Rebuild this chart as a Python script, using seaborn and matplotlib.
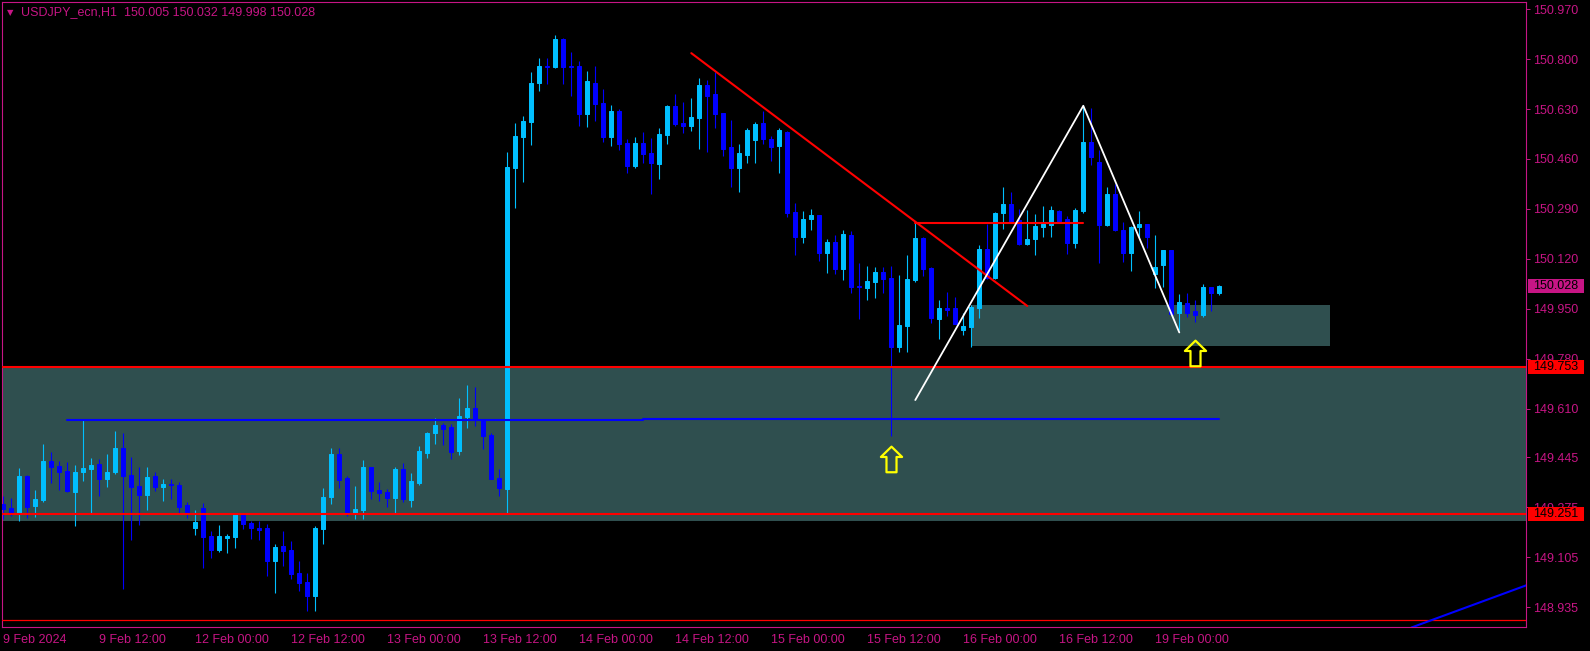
import numpy as np
import pandas as pd
import matplotlib
matplotlib.use("Agg")
import matplotlib.pyplot as plt
import matplotlib.transforms as mtransforms
from matplotlib.path import Path
from matplotlib.patches import Rectangle
import seaborn as sns

# USDJPY_ecn H1 candles, bar 0 = 9 Feb 2024 00:00 (weekend bars skipped)
opens = [149.286, 149.273, 149.257, 149.381, 149.279, 149.300, 149.432, 149.415, 149.398, 149.327,
         149.395, 149.405, 149.422, 149.371, 149.395, 149.477, 149.385, 149.347, 149.317, 149.381,
         149.344, 149.354, 149.351, 149.283, 149.204, 149.273, 149.177, 149.130, 149.172, 149.174,
         149.252, 149.222, 149.204, 149.204, 149.092, 149.143, 149.130, 149.051, 149.021, 148.973,
         149.201, 149.310, 149.456, 149.375, 149.256, 149.266, 149.412, 149.334, 149.327, 149.306,
         149.405, 149.300, 149.358, 149.460, 149.528, 149.555, 149.548, 149.466, 149.582, 149.613,
         149.572, 149.521, 149.375, 149.338, 150.430, 150.535, 150.586, 150.719, 150.777, 150.773,
         150.868, 150.777, 150.777, 150.613, 150.719, 150.651, 150.535, 150.623, 150.515, 150.436,
         150.515, 150.481, 150.443, 150.542, 150.640, 150.583, 150.572, 150.600, 150.712, 150.681,
         150.617, 150.501, 150.430, 150.474, 150.525, 150.583, 150.528, 150.505, 150.552, 150.280,
         150.195, 150.256, 150.270, 150.141, 150.178, 150.086, 150.202, 150.028, 150.021, 150.042,
         150.076, 150.055, 149.821, 149.892, 150.049, 150.192, 150.089, 149.916, 149.953, 149.953,
         149.879, 149.889, 149.953, 150.154, 150.055, 150.277, 150.307, 150.253, 150.171, 150.188,
         150.229, 150.236, 150.283, 150.256, 150.175, 150.283, 150.518, 150.450, 150.236, 150.341,
         150.219, 150.141, 150.229, 150.239, 150.069, 150.100, 150.151, 149.937, 149.970, 149.943,
         149.930, 150.025, 150.005]
highs = [149.313, 149.307, 149.409, 149.385, 149.334, 149.490, 149.463, 149.432, 149.429, 149.419,
         149.572, 149.443, 149.439, 149.456, 149.535, 149.528, 149.446, 149.412, 149.412, 149.395,
         149.371, 149.371, 149.361, 149.293, 149.266, 149.290, 149.194, 149.215, 149.184, 149.254,
         149.254, 149.228, 149.228, 149.218, 149.150, 149.194, 149.160, 149.092, 149.051, 149.211,
         149.340, 149.477, 149.477, 149.381, 149.347, 149.436, 149.413, 149.361, 149.337, 149.412,
         149.426, 149.392, 149.483, 149.531, 149.579, 149.562, 149.558, 149.647, 149.691, 149.684,
         149.574, 149.528, 149.405, 150.484, 150.583, 150.606, 150.756, 150.804, 150.804, 150.882,
         150.872, 150.824, 150.794, 150.760, 150.777, 150.698, 150.644, 150.630, 150.528, 150.535,
         150.552, 150.532, 150.566, 150.644, 150.681, 150.654, 150.668, 150.736, 150.729, 150.756,
         150.618, 150.593, 150.511, 150.566, 150.586, 150.624, 150.539, 150.566, 150.554, 150.311,
         150.283, 150.290, 150.271, 150.188, 150.202, 150.219, 150.215, 150.107, 150.096, 150.093,
         150.093, 150.096, 150.066, 150.134, 150.243, 150.195, 150.091, 149.981, 150.008, 149.991,
         149.936, 149.964, 150.168, 150.239, 150.280, 150.365, 150.348, 150.290, 150.287, 150.273,
         150.300, 150.300, 150.287, 150.266, 150.294, 150.644, 150.634, 150.491, 150.365, 150.375,
         150.246, 150.232, 150.283, 150.240, 150.202, 150.152, 150.152, 150.001, 150.004, 149.980,
         150.035, 150.025, 150.032]
lows = [149.236, 149.245, 149.230, 149.240, 149.243, 149.293, 149.359, 149.334, 149.328, 149.212,
        149.366, 149.257, 149.315, 149.344, 149.388, 148.997, 149.164, 149.215, 149.266, 149.330,
        149.296, 149.303, 149.257, 149.240, 149.181, 149.068, 149.102, 149.123, 149.120, 149.137,
        149.201, 149.167, 149.164, 149.041, 148.983, 149.075, 149.031, 148.990, 148.922, 148.922,
        149.150, 149.286, 149.340, 149.245, 149.235, 149.235, 149.303, 149.296, 149.276, 149.256,
        149.293, 149.276, 149.351, 149.443, 149.490, 149.487, 149.439, 149.453, 149.545, 149.551,
        149.473, 149.371, 149.313, 149.257, 150.293, 150.382, 150.508, 150.692, 150.715, 150.770,
        150.715, 150.674, 150.572, 150.569, 150.589, 150.518, 150.504, 150.491, 150.413, 150.430,
        150.447, 150.341, 150.392, 150.511, 150.572, 150.549, 150.555, 150.494, 150.484, 150.566,
        150.470, 150.365, 150.348, 150.447, 150.447, 150.511, 150.454, 150.413, 150.263, 150.134,
        150.175, 150.219, 150.113, 150.072, 150.069, 150.049, 150.004, 149.916, 149.981, 149.987,
        150.004, 149.518, 149.804, 149.804, 150.042, 150.062, 149.902, 149.848, 149.926, 149.899,
        149.862, 149.821, 149.919, 150.053, 150.052, 150.222, 150.243, 150.168, 150.168, 150.134,
        150.195, 150.195, 150.246, 150.137, 150.158, 150.277, 150.440, 150.107, 150.232, 150.215,
        150.110, 150.079, 150.195, 150.158, 150.021, 150.024, 149.930, 149.878, 149.924, 149.907,
        149.924, 149.943, 149.998]
closes = [149.270, 149.257, 149.381, 149.277, 149.303, 149.432, 149.412, 149.396, 149.330, 149.395,
          149.409, 149.419, 149.371, 149.395, 149.477, 149.381, 149.344, 149.317, 149.378, 149.344,
          149.354, 149.351, 149.276, 149.254, 149.225, 149.174, 149.130, 149.177, 149.178, 149.252,
          149.218, 149.204, 149.199, 149.092, 149.140, 149.126, 149.048, 149.017, 148.973, 149.204,
          149.310, 149.456, 149.368, 149.252, 149.269, 149.412, 149.330, 149.323, 149.306, 149.405,
          149.303, 149.364, 149.466, 149.528, 149.555, 149.541, 149.463, 149.585, 149.613, 149.572,
          149.517, 149.371, 149.340, 150.432, 150.538, 150.589, 150.719, 150.777, 150.773, 150.868,
          150.773, 150.773, 150.613, 150.726, 150.647, 150.535, 150.623, 150.511, 150.436, 150.515,
          150.477, 150.447, 150.545, 150.640, 150.579, 150.572, 150.603, 150.712, 150.674, 150.613,
          150.494, 150.430, 150.481, 150.559, 150.579, 150.528, 150.501, 150.559, 150.277, 150.195,
          150.256, 150.270, 150.141, 150.178, 150.086, 150.205, 150.025, 150.025, 150.045, 150.076,
          150.052, 149.821, 149.896, 150.052, 150.192, 150.086, 149.919, 149.953, 149.947, 149.899,
          149.892, 149.957, 150.154, 150.055, 150.277, 150.307, 150.246, 150.171, 150.188, 150.232,
          150.239, 150.287, 150.249, 150.175, 150.287, 150.518, 150.467, 150.236, 150.341, 150.219,
          150.141, 150.229, 150.239, 150.195, 150.093, 150.151, 149.933, 149.974, 149.937, 149.930,
          150.025, 150.003, 150.028]

date_ticks = [0, 12, 24, 36, 48, 60, 72, 84, 96, 108, 120, 132, 144]
date_labels = ["9 Feb 2024", "9 Feb 12:00", "12 Feb 00:00", "12 Feb 12:00", "13 Feb 00:00",
               "13 Feb 12:00", "14 Feb 00:00", "14 Feb 12:00", "15 Feb 00:00", "15 Feb 12:00",
               "16 Feb 00:00", "16 Feb 12:00", "19 Feb 00:00"]
price_ticks = [150.970, 150.800, 150.630, 150.460, 150.290, 150.120, 149.950,
               149.780, 149.610, 149.445, 149.275, 149.105, 148.935]

# drawn objects
red_levels = [149.753, 149.251]
bottom_level = 148.892
zone_big = [149.227, 149.753]
zone_small_x = [121, 165.8]
zone_small = [149.824, 149.963]
blue_level_x = [8, 80, 80, 152]
blue_level_y = [149.572, 149.572, 149.576, 149.576]
red_trend_x = [86, 128]
red_trend_y = [150.820, 149.960]
red_flat_x = [114, 135]
red_flat_y = [150.243, 150.243]
white_x = [114, 135, 147]
white_y = [149.640, 150.641, 149.870]
blue_trend_x = [176, 191]
blue_trend_y = [148.866, 149.016]
arrow_x = [111, 149]
arrow_y = [149.441, 149.800]

MAG = "#C71585"
BULL = "#00BFFF"
BEAR = "#0000FF"
ZONE = "#2F4F4F"
RED = "#FF0000"
FS = 9

sns.set_theme(style="dark", rc={"axes.facecolor": "black", "figure.facecolor": "black",
                                "axes.grid": False})
plt.rcParams["font.family"] = ["Liberation Sans", "DejaVu Sans"]

df = pd.DataFrame({"bar": np.arange(len(opens)), "open": opens, "high": highs,
                   "low": lows, "close": closes})
df["color"] = np.where(df["close"] >= df["open"], BULL, BEAR)
df["body_lo"] = df[["open", "close"]].min(axis=1)
df["body_h"] = (df["close"] - df["open"]).abs()

fig = plt.figure(figsize=(15.9, 6.51), dpi=100, facecolor="black")
ax = fig.add_axes([2 / 1590, 24 / 651, 1524 / 1590, 625 / 651])
ax.set_facecolor("black")

# zones
ax.axhspan(zone_big[0], zone_big[1], color=ZONE, lw=0, zorder=0)
ax.fill_between(zone_small_x, zone_small[0], zone_small[1], color=ZONE, lw=0, zorder=0)

# candles
ax.vlines(df["bar"], df["low"], df["high"], colors=df["color"], lw=0.8, zorder=2)
ax.bar(df["bar"], df["body_h"], bottom=df["body_lo"], width=0.5, color=df["color"],
       edgecolor=df["color"], lw=0.72, zorder=3)

# levels and trendlines
for lv in red_levels:
    ax.axhline(lv, color=RED, lw=1.5, zorder=4)
ax.axhline(bottom_level, color=RED, lw=0.9, zorder=4)
sns.lineplot(x=blue_level_x, y=blue_level_y, estimator=None, sort=False, color=BEAR, lw=1.5, ax=ax, zorder=4)
sns.lineplot(x=red_trend_x, y=red_trend_y, estimator=None, sort=False, color=RED, lw=1.5, ax=ax, zorder=4)
sns.lineplot(x=red_flat_x, y=red_flat_y, estimator=None, sort=False, color=RED, lw=1.5, ax=ax, zorder=4)
sns.lineplot(x=white_x, y=white_y, estimator=None, sort=False, color="white", lw=1.3, ax=ax, zorder=4)
sns.lineplot(x=blue_trend_x, y=blue_trend_y, estimator=None, sort=False, color=BEAR, lw=1.5, ax=ax, zorder=4)

# hollow up arrows
arrow_path = Path([(0, 13.7), (11.3, 2.7), (5.35, 2.7), (5.35, -13.6), (-5.35, -13.6),
                   (-5.35, 2.7), (-11.3, 2.7), (0, 13.7)],
                  [Path.MOVETO] + [Path.LINETO] * 6 + [Path.CLOSEPOLY])
ax.plot(arrow_x, arrow_y, ls="none", marker=arrow_path, ms=18.5, mfc="none",
        mec="#FFFF00", mew=1.6, zorder=5)

ax.set_xlim(-0.1625, 190.34)
ax.set_ylim(148.868, 150.994)

ax.set_xticks(date_ticks)
ax.set_xticklabels(date_labels)
for lab in ax.get_xticklabels():
    lab.set_ha("left")
ax.yaxis.tick_right()
ax.set_yticks(price_ticks)
ax.set_yticklabels([f"{v:.3f}" for v in price_ticks])
ax.tick_params(axis="x", colors=MAG, labelsize=FS, length=2.5, width=0.7, pad=2.5, direction="out")
ax.tick_params(axis="y", colors=MAG, labelsize=FS, length=3, width=0.7, pad=2, direction="out")
ax.set_xlabel("")
ax.set_ylabel("")
ax.grid(False)
for s in ax.spines.values():
    s.set_color(MAG)
    s.set_linewidth(0.8)

# price labels on the axis
trans = mtransforms.blended_transform_factory(ax.transAxes, ax.transData)
px = (ax.get_ylim()[1] - ax.get_ylim()[0]) / 625
for price, fc in [(closes[-1], MAG), (red_levels[0], RED), (red_levels[1], RED)]:
    ax.add_patch(Rectangle((1.0012, price - 7 * px), 0.0369, 14 * px, transform=trans,
                           facecolor=fc, edgecolor="none", clip_on=False, zorder=10))
    ax.text(1.0012 + 0.0369 / 2, price, f"{price:.3f}", transform=trans, color="black",
            fontsize=FS, ha="center", va="center", clip_on=False, zorder=11)

# header
fig.text(7 / 1590, 1 - 12.5 / 651, "\u25BC", color=MAG, fontsize=6, va="center", ha="left",
         family="DejaVu Sans")
fig.text(21 / 1590, 1 - 12.5 / 651,
         f"USDJPY_ecn,H1  {opens[-1]:.3f} {highs[-1]:.3f} {lows[-1]:.3f} {closes[-1]:.3f}",
         color=MAG, fontsize=FS, va="center", ha="left")

fig.savefig("out.png", dpi=100, facecolor="black")
